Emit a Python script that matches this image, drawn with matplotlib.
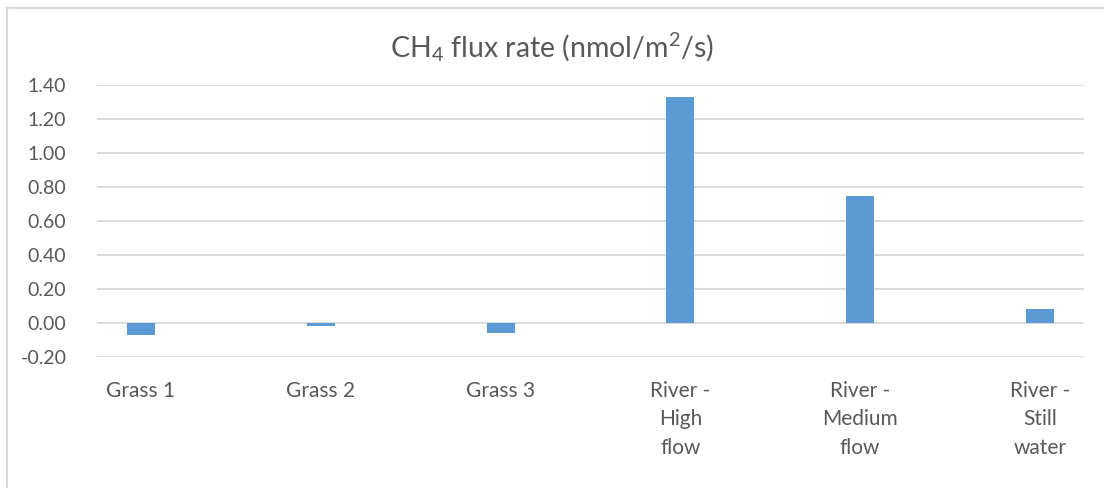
import matplotlib
matplotlib.use("Agg")
import matplotlib.pyplot as plt
from matplotlib.lines import Line2D

categories = ["Grass 1", "Grass 2", "Grass 3", "River -\nHigh\nflow", "River -\nMedium\nflow", "River -\nStill\nwater"]
values = [-0.07, -0.02, -0.06, 1.33, 0.75, 0.08]
yticks = [-0.20, 0.00, 0.20, 0.40, 0.60, 0.80, 1.00, 1.20, 1.40]

plt.rcParams['font.family'] = ['Lato', 'DejaVu Sans']
plt.rcParams['mathtext.fontset'] = 'custom'
plt.rcParams['mathtext.rm'] = 'Lato'
plt.rcParams['mathtext.it'] = 'Lato'

W, H = 1104, 488
fig = plt.figure(figsize=(W/100, H/100), dpi=100)
ax = fig.add_axes([97/W, 1-357/H, (1084-97)/W, (357-85)/H])

text_color = "#595959"
grid_color = "#d9d9d9"

x = list(range(len(categories)))
ax.bar(x, values, width=0.155, color="#5b9bd5", zorder=3)
ax.set_xlim(-0.245, len(categories)-1+0.245)
ax.set_ylim(-0.2, 1.4)
ax.set_yticks(yticks)
ax.set_yticklabels([f"{v:.2f}" for v in yticks])
ax.yaxis.grid(True, color=grid_color, linewidth=1.3, zorder=0)
ax.set_axisbelow(True)
for s in ax.spines.values():
    s.set_visible(False)
ax.tick_params(axis='y', length=0, pad=22, labelsize=14, labelcolor=text_color)
ax.set_xticks(x)
ax.set_xticklabels(categories, linespacing=1.55)
ax.tick_params(axis='x', length=0, pad=17, labelsize=15, labelcolor=text_color)
for lbl in ax.get_xticklabels():
    lbl.set_verticalalignment('top')

fig.text(0.5, 1-47/H, r"CH$_4$ flux rate (nmol/m$^2$/s)", ha='center', va='center',
         fontsize=20.5, color=text_color)

# chart border
fig.add_artist(Line2D([7/W, 1], [1-8/H, 1-8/H], transform=fig.transFigure, color=grid_color, linewidth=1.5))
fig.add_artist(Line2D([7/W, 7/W], [0, 1-8/H], transform=fig.transFigure, color=grid_color, linewidth=1.5))

fig.savefig("out.png", dpi=100, facecolor="white")
